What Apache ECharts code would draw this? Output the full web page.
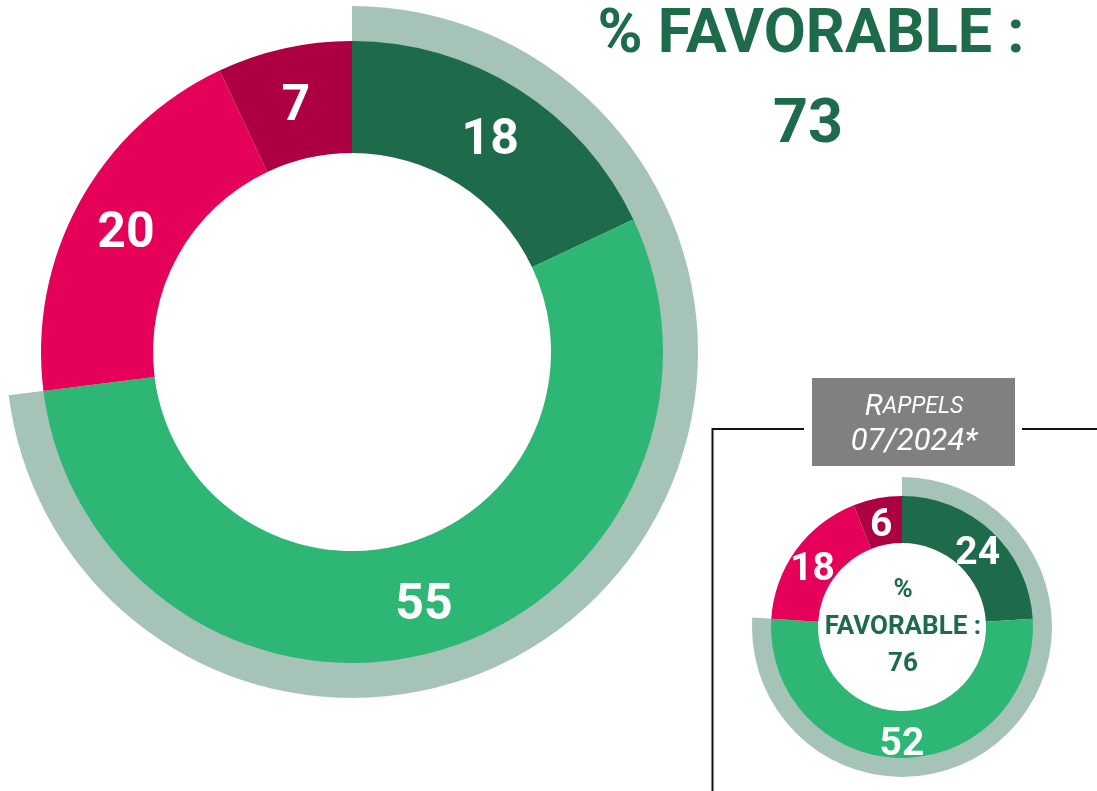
<!DOCTYPE html>
<html lang="fr">
<head>
    <meta charset="UTF-8">
    <title>% favorable</title>
    <style>
        html, body { margin: 0; padding: 0; background: #fff; }
        #chart { width: 1097px; height: 791px; }
    </style>
</head>
<body>
<div id="chart"></div>
<script src="https://cdn.jsdelivr.net/npm/echarts@6/dist/echarts.min.js"></script>
<script>
    // données
    var categories = ['Très favorable', 'Plutôt favorable', 'Plutôt défavorable', 'Très défavorable'];
    var current = [18, 55, 20, 7];
    var rappel = [24, 52, 18, 6];
    var favorableCurrent = 73;
    var favorableRappel = 76;

    var colors = ['#1d6b4b', '#2db674', '#e5005a', '#ad0043'];
    var green = '#1d6b4b';
    var grey = '#a6c3b7';
    var font = 'Roboto';

    function pieData(values) {
        return values.map(function (v, i) {
            return {name: categories[i], value: v, itemStyle: {color: colors[i]}};
        });
    }

    function arcData(fav) {
        return [
            {name: 'favorable', value: fav, itemStyle: {color: grey}},
            {name: 'reste', value: 100 - fav, itemStyle: {color: 'rgba(0,0,0,0)'}}
        ];
    }

    var myChart = echarts.init(document.getElementById('chart'));
    var option = {
        animation: false,
        series: [
            {
                type: 'pie', silent: true, startAngle: 90,
                center: [352, 352], radius: [310, 346],
                label: {show: false}, labelLine: {show: false},
                data: arcData(favorableCurrent)
            },
            {
                type: 'pie', silent: true, startAngle: 90,
                center: [352, 352], radius: [199, 311],
                itemStyle: {borderWidth: 0},
                label: {
                    show: true, position: 'inside', formatter: '{c}', offset: [0, 7],
                    color: '#fff', fontFamily: font, fontWeight: 'bold', fontSize: 50
                },
                data: pieData(current)
            },
            {
                type: 'pie', silent: true, startAngle: 90,
                center: [902, 627], radius: [130, 150],
                label: {show: false}, labelLine: {show: false},
                data: arcData(favorableRappel)
            },
            {
                type: 'pie', silent: true, startAngle: 90,
                center: [902, 627], radius: [84, 131],
                itemStyle: {borderWidth: 0},
                label: {
                    show: true, position: 'inside', formatter: '{c}', offset: [0, 8],
                    color: '#fff', fontFamily: font, fontWeight: 'bold', fontSize: 39
                },
                data: pieData(rappel)
            }
        ],
        graphic: [
            {
                type: 'text', x: 811, y: 37,
                style: {
                    text: '% FAVORABLE :', fill: green, font: 'bold 61px Roboto',
                    align: 'center', verticalAlign: 'middle'
                }
            },
            {
                type: 'text', x: 808, y: 127,
                style: {
                    text: String(favorableCurrent), fill: green, font: 'bold 61px Roboto',
                    align: 'center', verticalAlign: 'middle'
                }
            },
            {
                type: 'text', x: 903, y: 627,
                style: {
                    text: '%\nFAVORABLE :\n' + favorableRappel, fill: green,
                    font: 'bold 26px Roboto', lineHeight: 37,
                    align: 'center', verticalAlign: 'middle'
                }
            },
            // cadre
            {
                type: 'polyline', silent: true,
                shape: {points: [[712.5, 791], [712.5, 429], [804, 429]]},
                style: {stroke: '#111', lineWidth: 2, fill: null}
            },
            {
                type: 'line', silent: true,
                shape: {x1: 1022, y1: 429, x2: 1097, y2: 429},
                style: {stroke: '#111', lineWidth: 2}
            },
            {
                type: 'rect', silent: true,
                shape: {x: 812, y: 378, width: 203, height: 88},
                style: {fill: '#808080'}
            },
            {
                type: 'text', x: 914, y: 407,
                style: {
                    text: '{a|R}{b|APPELS}',
                    align: 'center', verticalAlign: 'middle',
                    rich: {
                        a: {fill: '#fff', font: 'italic 30px Roboto'},
                        b: {fill: '#fff', font: 'italic 23px Roboto'}
                    }
                }
            },
            {
                type: 'text', x: 914, y: 442,
                style: {
                    text: '07/2024*', fill: '#fff', font: 'italic 31px Roboto',
                    align: 'center', verticalAlign: 'middle'
                }
            }
        ]
    };
    myChart.setOption(option);
</script>
</body>
</html>
